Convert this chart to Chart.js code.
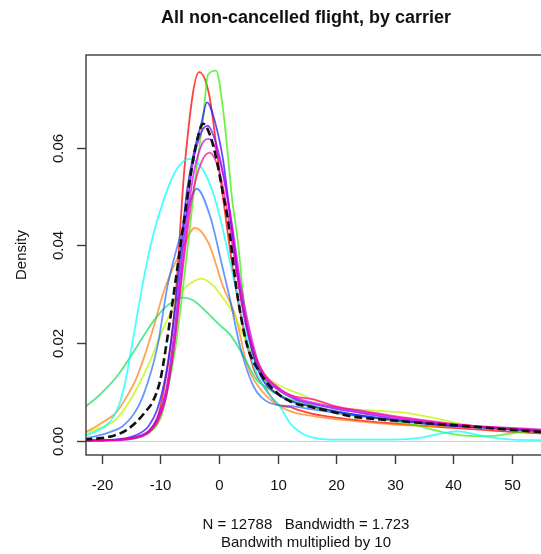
<!DOCTYPE html>
<html>
<head>
<meta charset="utf-8">
<script src="https://cdn.jsdelivr.net/npm/chart.js@4.4.1/dist/chart.umd.min.js"></script>
<style>
  html, body { margin: 0; padding: 0; background: #fff; overflow: hidden; }
  #wrap { width: 560px; height: 554px; }
</style>
</head>
<body>
<div id="wrap"><canvas id="c" width="560" height="554"></canvas></div>
<script>
// Axis ticks
const xTicks = [-20, -10, 0, 10, 20, 30, 40, 50];
const yTicks = [0, 0.02, 0.04, 0.06];

// Pooled density (all carriers), dashed black
const allX = [-23, -21, -19, -17.5, -16, -14.2, -12.5, -11.3, -10, -9, -7.5, -6.1, -4.7, -3.6, -2.7, -1.6, -0.4, 0.7, 1.6, 3, 4.7, 7, 9.9, 12.6, 16, 19, 22.4, 28, 35, 42, 49, 56];
const allY = [0.0002, 0.0004, 0.0007, 0.0012, 0.002, 0.0037, 0.006, 0.008, 0.0125, 0.0195, 0.032, 0.0439, 0.0555, 0.0622, 0.0649, 0.0628, 0.0575, 0.0505, 0.0446, 0.031, 0.02, 0.0139, 0.0098, 0.0078, 0.0068, 0.006, 0.005, 0.0043, 0.0036, 0.003, 0.0023, 0.0017];

// Per-carrier densities
const redX = [-23, -17, -14.2, -12.5, -11.3, -10.3, -9.1, -8.3, -7.5, -5.8, -3.4, -1.7, 0, 1, 2.5, 4, 6, 8, 9, 10.4, 12, 13.5, 16, 20, 25, 30, 35, 40, 45, 50, 56];
const redY = [0, 0.0002, 0.0006, 0.0014, 0.0029, 0.0055, 0.0125, 0.019, 0.028, 0.057, 0.0755, 0.071, 0.056, 0.047, 0.034, 0.024, 0.0145, 0.0105, 0.0088, 0.0072, 0.0069, 0.0063, 0.0055, 0.0047, 0.004, 0.0035, 0.003, 0.0026, 0.0022, 0.0018, 0.0014];

const greenX = [-23, -16, -13, -11.3, -10, -9.1, -7.4, -5.5, -3.8, -2.7, -1.9, -0.5, 0.7, 1.6, 2.2, 3.3, 4.2, 5, 6, 8, 10, 14, 20, 27, 33, 38, 42, 46, 50, 56];
const greenY = [0, 0.0002, 0.0009, 0.0022, 0.0045, 0.0085, 0.0193, 0.038, 0.056, 0.066, 0.0749, 0.0758, 0.0678, 0.0575, 0.05, 0.04, 0.0289, 0.022, 0.017, 0.012, 0.0095, 0.0075, 0.0057, 0.0045, 0.0033, 0.0018, 0.001, 0.0009, 0.0015, 0.0022];

const blueX = [-23, -17, -14, -12, -10.5, -9, -7.5, -5.5, -4.1, -3, -2.05, -0.7, 0.7, 2, 3.5, 5, 7, 10, 13, 16, 20, 25, 30, 35, 40, 45, 50, 56];
const blueY = [0, 0.0003, 0.0012, 0.003, 0.0065, 0.014, 0.027, 0.0508, 0.06, 0.065, 0.0693, 0.0654, 0.0575, 0.045, 0.031, 0.0215, 0.0135, 0.0095, 0.0078, 0.007, 0.006, 0.005, 0.0042, 0.0035, 0.003, 0.0027, 0.0023, 0.0019];

const purpleX = [-23, -17, -14, -12, -10.5, -9, -7.5, -6, -4.5, -3, -1.9, -0.8, 0.5, 2, 3.5, 5, 7, 10, 13, 16, 20, 25, 30, 35, 40, 45, 50, 56];
const purpleY = [0, 0.0002, 0.0008, 0.002, 0.0045, 0.0105, 0.0235, 0.0415, 0.0565, 0.0632, 0.0645, 0.062, 0.056, 0.0455, 0.032, 0.0225, 0.0145, 0.0105, 0.0085, 0.0075, 0.0065, 0.0055, 0.0045, 0.0038, 0.0032, 0.0028, 0.0024, 0.002];

const magentaX = [-23, -17, -14, -12, -10.5, -9, -7.5, -6, -4.5, -3, -1.8, -0.6, 0.7, 2.2, 3.7, 5.2, 7, 10, 13, 16, 20, 25, 30, 35, 40, 45, 50, 56];
const magentaY = [0, 0.0001, 0.0006, 0.0016, 0.0038, 0.009, 0.021, 0.0385, 0.0535, 0.0605, 0.0618, 0.06, 0.0545, 0.0445, 0.032, 0.0228, 0.015, 0.011, 0.0088, 0.0078, 0.0068, 0.0058, 0.0048, 0.004, 0.0033, 0.0029, 0.0026, 0.0022];

const pinkX = [-23, -17, -14, -12, -10.5, -9, -7.5, -6, -4.5, -3, -1.6, -0.3, 1, 2.5, 4, 5.5, 7, 10, 13, 16, 20, 25, 30, 35, 40, 45, 50, 56];
const pinkY = [0, 0.0002, 0.0007, 0.0018, 0.004, 0.0095, 0.021, 0.037, 0.0505, 0.057, 0.059, 0.0565, 0.05, 0.0385, 0.0275, 0.02, 0.0152, 0.0108, 0.009, 0.0085, 0.007, 0.006, 0.005, 0.0042, 0.0034, 0.0028, 0.0024, 0.002];

const cyanX = [-23, -21, -19.5, -18.2, -17, -16, -15, -14, -13, -12, -11, -10, -9, -8, -7, -6, -5, -4, -3, -2, -1, 0, 1, 2, 3, 4, 5, 6, 7.6, 9, 10.4, 12.1, 13.5, 15, 17, 20, 25, 30, 34, 37, 40.6, 43, 46, 50, 56];
const cyanY = [0.0009, 0.0019, 0.0029, 0.0045, 0.0075, 0.012, 0.0185, 0.0255, 0.0322, 0.0382, 0.0432, 0.0472, 0.0508, 0.0538, 0.056, 0.0573, 0.0577, 0.0573, 0.056, 0.0538, 0.0508, 0.0465, 0.0415, 0.036, 0.0305, 0.025, 0.0195, 0.015, 0.011, 0.0088, 0.007, 0.0036, 0.002, 0.001, 0.0004, 0.0002, 0.0002, 0.0002, 0.0005, 0.0012, 0.0019, 0.0015, 0.0007, 0.0002, 0.0001];

const cornX = [-23, -21, -18.5, -16.5, -14.5, -13, -10.5, -8.8, -6.1, -3.8, -1.5, 0.7, 1.9, 3.6, 5.9, 8.7, 12.7, 16, 20, 25, 30, 35, 40, 45, 50, 56];
const cornY = [0.0005, 0.0009, 0.0018, 0.0029, 0.0055, 0.009, 0.0193, 0.0316, 0.0439, 0.0516, 0.0459, 0.035, 0.0289, 0.0193, 0.0111, 0.0077, 0.007, 0.0064, 0.0057, 0.0049, 0.0042, 0.0036, 0.003, 0.0026, 0.0022, 0.0019];

const orangeX = [-23, -21, -19.5, -17.6, -16, -14.2, -12.8, -11.3, -9.3, -6.1, -4.1, -1.8, 0.7, 3, 4.7, 7.6, 11.6, 16.1, 20.7, 25, 30, 35, 40, 45, 50, 56];
const orangeY = [0.0016, 0.0029, 0.004, 0.0057, 0.0085, 0.0125, 0.017, 0.0227, 0.031, 0.0398, 0.0436, 0.0405, 0.0316, 0.0248, 0.0159, 0.0098, 0.0063, 0.005, 0.0043, 0.0038, 0.0033, 0.003, 0.0029, 0.0028, 0.0025, 0.002];

const yellowX = [-23, -21, -19.5, -17.6, -14.8, -11.9, -9.6, -7.5, -6.1, -4.5, -3, -1, 0.5, 2.5, 4, 5.5, 7, 8.2, 10, 13.3, 16.1, 20.7, 26, 32, 36, 40.6, 46.3, 50, 56];
const yellowY = [0.0014, 0.0023, 0.003, 0.0043, 0.009, 0.0159, 0.0227, 0.028, 0.0309, 0.0325, 0.0332, 0.0318, 0.0295, 0.026, 0.022, 0.018, 0.0145, 0.013, 0.0115, 0.0098, 0.0084, 0.0067, 0.0062, 0.0057, 0.0048, 0.0036, 0.0026, 0.0023, 0.0017];

const springX = [-23, -20, -17, -14, -11.3, -9, -7, -6.2, -4.5, -2.5, 0, 1.9, 4.2, 6.4, 8, 10, 14, 20, 25, 30, 35, 40, 45, 50, 56];
const springY = [0.0067, 0.0098, 0.0138, 0.0193, 0.0243, 0.0275, 0.029, 0.0293, 0.0288, 0.0268, 0.0238, 0.0217, 0.0173, 0.0125, 0.011, 0.0095, 0.0078, 0.006, 0.005, 0.0042, 0.0035, 0.003, 0.0027, 0.0023, 0.0019];

const pts = (xs, ys) => xs.map((x, i) => ({ x: x, y: ys[i] }));
const curve = (xs, ys, color) => ({
  data: pts(xs, ys),
  borderColor: color,
  borderWidth: 1.8,
  pointRadius: 0,
  showLine: true,
  fill: false,
  cubicInterpolationMode: 'monotone'
});

const pooled = curve(allX, allY, '#111111');
pooled.borderDash = [8, 4];
pooled.borderWidth = 2.6;

const datasets = [
  pooled,
  curve(pinkX, pinkY, 'rgba(255,0,140,0.72)'),
  curve(magentaX, magentaY, 'rgba(220,0,240,0.75)'),
  curve(purpleX, purpleY, 'rgba(130,0,255,0.75)'),
  curve(blueX, blueY, 'rgba(40,20,255,0.75)'),
  curve(cornX, cornY, 'rgba(0,90,255,0.62)'),
  curve(cyanX, cyanY, 'rgba(0,255,255,0.72)'),
  curve(springX, springY, 'rgba(0,220,90,0.68)'),
  curve(greenX, greenY, 'rgba(50,240,0,0.72)'),
  curve(yellowX, yellowY, 'rgba(190,245,0,0.75)'),
  curve(orangeX, orangeY, 'rgba(255,120,0,0.68)'),
  curve(redX, redY, 'rgba(255,0,0,0.75)')
];

const FONT = '"Liberation Sans", Arial, Helvetica, sans-serif';

const frame = {
  id: 'frame',
  beforeDatasetsDraw(chart) {
    const { ctx, chartArea: a, scales: { y } } = chart;
    const y0 = Math.round(y.getPixelForValue(0)) + 0.5;
    ctx.save();
    ctx.strokeStyle = '#d0d0d0';
    ctx.lineWidth = 1;
    ctx.beginPath();
    ctx.moveTo(a.left, y0);
    ctx.lineTo(a.right, y0);
    ctx.stroke();
    ctx.restore();
  },
  afterDraw(chart) {
    const { ctx, chartArea: a, scales: { x, y } } = chart;
    ctx.save();
    ctx.strokeStyle = '#3a3a3a';
    ctx.lineWidth = 1.4;
    ctx.strokeRect(a.left, a.top, a.right - a.left, a.bottom - a.top);

    ctx.fillStyle = '#111';
    ctx.font = '15px ' + FONT;
    ctx.textAlign = 'center';
    ctx.textBaseline = 'middle';
    xTicks.forEach(v => {
      const px = Math.round(x.getPixelForValue(v)) + 0.5;
      ctx.beginPath();
      ctx.moveTo(px, a.bottom);
      ctx.lineTo(px, a.bottom + 9);
      ctx.stroke();
      ctx.fillText(String(v), px, 486);
    });
    yTicks.forEach(v => {
      const py = Math.round(y.getPixelForValue(v)) + 0.5;
      ctx.beginPath();
      ctx.moveTo(a.left, py);
      ctx.lineTo(a.left - 9, py);
      ctx.stroke();
      ctx.save();
      ctx.translate(59, py);
      ctx.rotate(-Math.PI / 2);
      ctx.fillText(v.toFixed(2), 0, 0);
      ctx.restore();
    });

    ctx.save();
    ctx.translate(22, (a.top + a.bottom) / 2);
    ctx.rotate(-Math.PI / 2);
    ctx.fillText('Density', 0, 0);
    ctx.restore();

    ctx.fillText('N = 12788   Bandwidth = 1.723', 306, 525);
    ctx.fillText('Bandwith multiplied by 10', 306, 543);

    ctx.font = 'bold 18px ' + FONT;
    ctx.fillText('All non-cancelled flight, by carrier', 306, 18);
    ctx.restore();
  }
};

new Chart(document.getElementById('c'), {
  type: 'scatter',
  data: { datasets: datasets },
  options: {
    responsive: false,
    animation: false,
    layout: { padding: { left: 86, top: 55, right: 13, bottom: 99 } },
    scales: {
      x: { type: 'linear', min: -22.7, max: 56, display: false },
      y: { type: 'linear', min: -0.00295, max: 0.079, display: false }
    },
    plugins: { legend: { display: false }, tooltip: { enabled: false }, title: { display: false } }
  },
  plugins: [frame]
});
</script>
</body>
</html>
